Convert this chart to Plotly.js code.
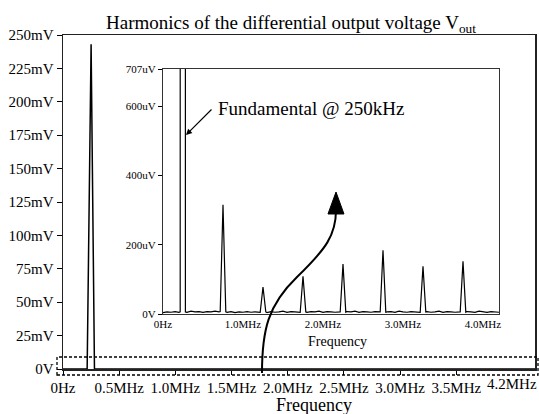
<!DOCTYPE html>
<html>
<head>
<meta charset="utf-8">
<script src="https://cdn.plot.ly/plotly-3.0.1.min.js"></script>
<style>html,body{margin:0;padding:0;background:#fff;}#chart{width:539px;height:414px;}</style>
</head>
<body>
<div id="chart"></div>
<script>
// Spectrum data: frequency in MHz, amplitude in microvolts
const freqMHz = [0,0.05,0.10,0.15,0.20,0.215,0.25,0.28,0.30,0.35,0.40,0.45,0.50,0.55,0.60,0.65,0.70,0.715,0.75,0.785,0.80,0.85,0.90,0.95,1.00,1.05,1.10,1.15,1.215,1.25,1.285,1.30,1.35,1.40,1.45,1.50,1.55,1.60,1.65,1.715,1.75,1.785,1.80,1.85,1.90,1.95,2.00,2.05,2.10,2.15,2.215,2.25,2.285,2.30,2.35,2.40,2.45,2.50,2.55,2.60,2.65,2.715,2.75,2.785,2.80,2.85,2.90,2.95,3.00,3.05,3.10,3.15,3.215,3.25,3.285,3.30,3.35,3.40,3.45,3.50,3.55,3.60,3.65,3.715,3.75,3.785,3.80,3.85,3.90,3.95,4.00,4.05,4.10,4.15,4.20];
const ampUV = [4,6,5,7,5,6,243000,6,5,8,6,7,5,7,6,8,6,7,315,6,5,7,4,6,5,7,5,6,5,78,6,4,7,5,6,8,5,7,6,5,109,6,5,7,6,8,5,7,6,5,6,144,5,7,6,8,5,7,6,5,7,6,184,5,6,7,5,8,6,5,7,6,5,138,6,7,5,6,8,5,7,6,5,6,152,5,7,6,5,8,6,5,7,6,5];

// Main axis ticks
const mainXTickVals = [0,0.5,1.0,1.5,2.0,2.5,3.0,3.5];
const mainXTickText = ['0Hz','0.5MHz','1.0MHz','1.5MHz','2.0MHz','2.5MHz','3.0MHz','3.5MHz'];
const mainXEndLabel = '4.2MHz';
const mainYTickVals = [0,25000,50000,75000,100000,125000,150000,175000,200000,225000,250000];
const mainYTickText = ['0V','25mV','50mV','75mV','100mV','125mV','150mV','175mV','200mV','225mV','250mV'];

// Inset axis ticks
const insetXTickVals = [0,1,2,3,4];
const insetXTickText = ['0Hz','1.0MHz','2.0MHz','3.0MHz','4.0MHz'];
const insetYTickVals = [0,200,400,600,707];
const insetYTickText = ['0V','200uV','400uV','600uV','707uV'];

const W = 539, H = 414, L = 63, R = 535, T = 35, B = 369;
function px(x){ return (x - L) / (R - L); }
function py(y){ return (B - y) / (B - T); }
function P(x, y){ return px(x).toFixed(4) + ',' + py(y).toFixed(4); }

const serif = 'Liberation Serif';
function f(size){ return {family: serif, size: size, color: '#000'}; }

const traces = [
  {x: freqMHz, y: ampUV, xaxis: 'x', yaxis: 'y', type: 'scatter', mode: 'lines',
   line: {color: '#000', width: 1.5}, hoverinfo: 'skip'},
  {x: freqMHz, y: ampUV, xaxis: 'x2', yaxis: 'y2', type: 'scatter', mode: 'lines',
   line: {color: '#000', width: 1.2}, hoverinfo: 'skip'}
];

const layout = {
  width: W, height: H,
  margin: {l: L, r: W - R, t: T, b: H - B, pad: 0},
  paper_bgcolor: '#fff', plot_bgcolor: '#fff',
  showlegend: false,
  font: f(14),
  title: {text: 'Harmonics of the differential output voltage V<sub>out</sub>',
          font: f(19),
          xref: 'container', x: 291 / W, xanchor: 'center',
          yref: 'container', y: 1 - 22 / H, yanchor: 'middle'},
  xaxis: {domain: [0, 1], range: [0, 4.2], tickmode: 'array', tickvals: mainXTickVals, ticktext: mainXTickText,
          ticks: 'outside', ticklen: 4, tickwidth: 1, tickcolor: '#000',
          showline: true, linecolor: '#222', linewidth: 1.5, mirror: true,
          showgrid: false, zeroline: false, tickfont: f(15), fixedrange: true},
  yaxis: {domain: [0, 1], range: [0, 250000], tickmode: 'array', tickvals: mainYTickVals, ticktext: mainYTickText,
          ticks: 'outside', ticklen: 5, tickwidth: 1, tickcolor: '#000',
          showline: true, linecolor: '#222', linewidth: 1.5, mirror: true,
          showgrid: false, zeroline: false, tickfont: f(15), fixedrange: true},
  xaxis2: {domain: [px(163), px(499)], anchor: 'y2', range: [0, 4.2], tickmode: 'array',
           tickvals: insetXTickVals, ticktext: insetXTickText, ticks: '',
           showline: true, linecolor: '#333', linewidth: 1, mirror: true,
           showgrid: false, zeroline: false, tickfont: f(11), fixedrange: true},
  yaxis2: {domain: [py(314), py(69)], anchor: 'x2', range: [0, 707], tickmode: 'array',
           tickvals: insetYTickVals, ticktext: insetYTickText, ticks: 'outside', ticklen: 4, tickcolor: '#000',
           showline: true, linecolor: '#333', linewidth: 1, mirror: true,
           showgrid: false, zeroline: false, tickfont: f(11), fixedrange: true},
  annotations: [
    {text: 'Frequency', xref: 'paper', yref: 'paper', x: px(314), y: py(404.5), xanchor: 'center', yanchor: 'middle',
     showarrow: false, font: f(18)},
    {text: 'Frequency', xref: 'paper', yref: 'paper', x: px(337), y: py(341), xanchor: 'center', yanchor: 'middle',
     showarrow: false, font: f(14)},
    {text: mainXEndLabel, xref: 'paper', yref: 'paper', x: px(539), y: py(384), xanchor: 'right', yanchor: 'middle',
     showarrow: false, font: f(15)},
    {text: 'Fundamental @ 250kHz', xref: 'paper', yref: 'paper', x: px(216), y: py(108), xanchor: 'left', yanchor: 'middle',
     showarrow: false, font: f(19)},
    {text: '', xref: 'paper', yref: 'paper', x: px(186), y: py(135), ax: 27, ay: -27,
     showarrow: true, arrowhead: 2, arrowsize: 1, arrowwidth: 1.2, arrowcolor: '#000'}
  ],
  shapes: [
    {type: 'rect', xref: 'paper', yref: 'paper', x0: px(57), x1: px(538), y0: py(375), y1: py(357),
     line: {color: '#000', width: 1.3, dash: '3px,2px'}, fillcolor: 'rgba(0,0,0,0)'},
    {type: 'path', xref: 'paper', yref: 'paper',
     path: 'M ' + P(262,373) + ' C ' + P(262,330) + ' ' + P(268,305) + ' ' + P(297,277) +
           ' C ' + P(326,249) + ' ' + P(336,235) + ' ' + P(336,210),
     line: {color: '#000', width: 2}},
    {type: 'path', xref: 'paper', yref: 'paper',
     path: 'M ' + P(336,192) + ' L ' + P(328,214) + ' L ' + P(344,214) + ' Z',
     line: {color: '#000', width: 1}, fillcolor: '#000'}
  ]
};

Plotly.newPlot('chart', traces, layout, {staticPlot: true, displayModeBar: false});
</script>
</body>
</html>
